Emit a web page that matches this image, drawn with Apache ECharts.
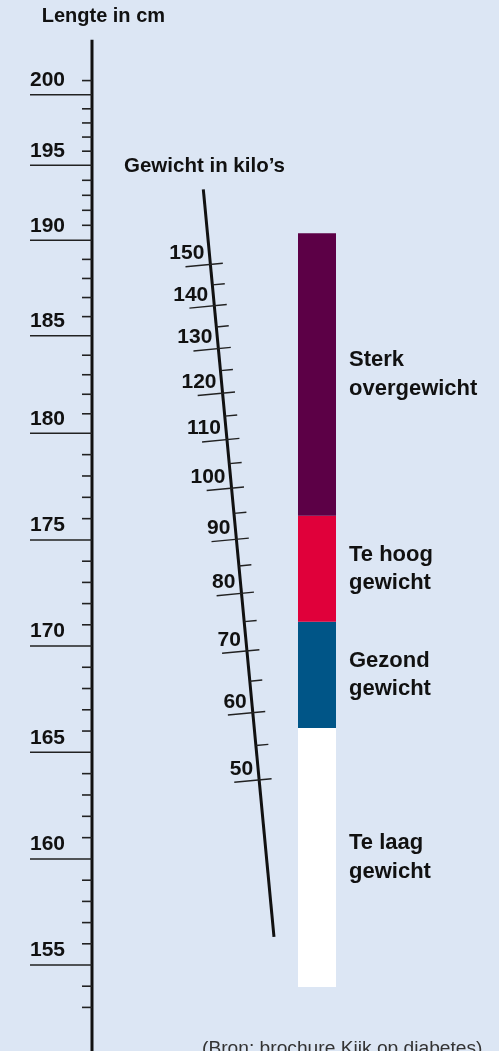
<!DOCTYPE html>
<html>
<head>
<meta charset="utf-8">
<script src="https://cdn.jsdelivr.net/npm/echarts@6/dist/echarts.min.js"></script>
<style>
html,body{margin:0;padding:0;background:#dce6f4;}
#c{width:499px;height:1051px;}
</style>
</head>
<body>
<div id="c"></div>
<script>
// ================= DATA =================
const titleHeight = 'Lengte in cm';
const titleWeight = 'Gewicht in kilo\u2019s';
const sourceText = '(Bron: brochure Kijk op diabetes)';

const heightMajorTicks = [200, 195, 190, 185, 180, 175, 170, 165, 160, 155];
const heightMinorTicks = [201, 199, 198, 197, 196, 194, 193, 192, 191, 189, 188, 187, 186,
  184, 183, 182, 181, 179, 178, 177, 176, 174, 173, 172, 171, 169, 168, 167, 166,
  164, 163, 162, 161, 159, 158, 157, 156, 154, 153];

const weightMajorTicks = [150, 140, 130, 120, 110, 100, 90, 80, 70, 60, 50];
const weightMinorTicks = [145, 135, 125, 115, 105, 95, 85, 75, 65, 55];

const bmiBandNames = ['Te laag\ngewicht', 'Gezond\ngewicht', 'Te hoog\ngewicht', 'Sterk\novergewicht'];
const bmiBandLimits = [7.8, 20, 25, 30, 43.3];   // BMI: bar start, band borders, bar end

// ================= LAYOUT / STYLE =================
const W = 499, H = 1051;
const L = {
  // height (Lengte) scale: printed, non-uniform scale -> anchor points (cm -> vertical units)
  hAnchors: [[155, 965], [160, 859], [165, 752.3], [170, 646], [175, 540], [180, 433.3],
             [185, 335.7], [190, 240.3], [195, 165.3], [200, 94.7]],
  hAxisX: 92, hAxisExtent: [150.5, 203.9], hMinorLen: 10, hMajorLeft: 30, hLabelRise: 14.5,
  // weight (Gewicht) scale: square-root scale along a slanted line
  wMidY: 501.45, wPerSqrt: 99.6, wMidSqrt: 9.867,
  wLineTop: [203.3, 189.3], wSlope: 0.09456, wExtent: [30.2, 169],
  wTickRight: 12.5, wTickLeft: 25, wLabelGap: 5, wLabelRise: 11,
  // BMI bar
  bar: { left: 298, top: 233.3, width: 38, height: 753.7 }
};
const colors = { bg: '#dce6f4', ink: '#111111', tick: '#222222',
  bands: ['#ffffff', '#005587', '#e0003a', '#5c0046'] };
const FONT = '"Liberation Sans", Arial, Helvetica, sans-serif';

function hToY(h) {
  const a = L.hAnchors;
  let i = 0;
  while (i < a.length - 2 && h > a[i + 1][0]) i++;
  const [h0, y0] = a[i], [h1, y1] = a[i + 1];
  return y0 + (h - h0) * (y1 - y0) / (h1 - h0);
}
function wToY(w) { return L.wMidY - L.wPerSqrt * (Math.sqrt(w) - L.wMidSqrt); }
function wLineX(y) { return L.wLineTop[0] + (y - L.wLineTop[1]) * L.wSlope; }
const nLen = Math.sqrt(1 + L.wSlope * L.wSlope);
const nx = 1 / nLen, ny = -L.wSlope / nLen;   // normal to the weight line (pointing right)

function txt(x, y, text, size, weight, align, vAlign, color) {
  return { type: 'text', x: x, y: y, silent: true,
    style: { text: text, fill: color || colors.ink, font: weight + ' ' + size + 'px ' + FONT,
      fontSize: size, fontWeight: weight, fontFamily: FONT,
      align: align, verticalAlign: vAlign, textAlign: align, textVerticalAlign: vAlign } };
}
function seg(p1, p2, w, c) {
  return { type: 'line', silent: true, shape: { x1: p1[0], y1: p1[1], x2: p2[0], y2: p2[1] },
    style: { stroke: c || colors.tick, lineWidth: w, lineCap: 'butt' } };
}

// ---------- height axis ----------
function renderHeightAxis(params, api) {
  const p1 = api.coord([L.hAxisX, hToY(api.value(1))]);
  const p2 = api.coord([L.hAxisX, hToY(api.value(0))]);
  return seg(p1, p2, 3, colors.ink);
}
function renderHeightMinor(params, api) {
  const y = hToY(api.value(0));
  return seg(api.coord([L.hAxisX - L.hMinorLen, y]), api.coord([L.hAxisX, y]), 1.6);
}
function renderHeightMajor(params, api) {
  const h = api.value(0);
  const y = hToY(h);
  const a = api.coord([L.hMajorLeft, y]), b = api.coord([L.hAxisX, y]);
  const t = api.coord([L.hMajorLeft, y - L.hLabelRise]);
  return { type: 'group', children: [
    seg(a, b, 1.5),
    txt(t[0], t[1], String(h), 21, 'bold', 'left', 'middle')
  ] };
}

// ---------- weight line ----------
function renderWeightLine(params, api) {
  const yTop = wToY(api.value(1)), yBot = wToY(api.value(0));
  return seg(api.coord([wLineX(yTop), yTop]), api.coord([wLineX(yBot), yBot]), 3, colors.ink);
}
function renderWeightMinor(params, api) {
  const y = wToY(api.value(0)), x = wLineX(y);
  return seg(api.coord([x, y]), api.coord([x + L.wTickRight * nx, y + L.wTickRight * ny]), 1.4);
}
function renderWeightMajor(params, api) {
  const w = api.value(0);
  const y = wToY(w), x = wLineX(y);
  const ly = y - L.wLabelRise;
  const lp = api.coord([wLineX(ly) - L.wLabelGap, ly]);
  return { type: 'group', children: [
    seg(api.coord([x - L.wTickLeft * nx, y - L.wTickLeft * ny]),
        api.coord([x + L.wTickRight * nx, y + L.wTickRight * ny]), 1.4),
    txt(lp[0], lp[1], String(w), 21, 'bold', 'right', 'middle')
  ] };
}

const hiddenAxis = { show: false };
const bandSeries = bmiBandNames.map(function (name, i) {
  return {
    type: 'bar', name: name, stack: 'bmi', xAxisIndex: 1, yAxisIndex: 1,
    barWidth: '100%', clip: true, silent: true,
    itemStyle: { color: colors.bands[i] },
    label: { show: true, position: 'right', distance: 13, formatter: '{a}',
      color: colors.ink, fontSize: 22, fontWeight: 'bold', fontFamily: FONT, lineHeight: 28.5,
      align: 'left' },
    data: [bmiBandLimits[i + 1] - (i === 0 ? 0 : bmiBandLimits[i])]
  };
});

const chart = echarts.init(document.getElementById('c'), null, { renderer: 'canvas', width: W, height: H });
chart.setOption({
  backgroundColor: colors.bg,
  animation: false,
  grid: [
    { left: 0, top: 0, width: W, height: H },
    { left: L.bar.left, top: L.bar.top, width: L.bar.width, height: L.bar.height }
  ],
  xAxis: [
    Object.assign({ type: 'value', min: 0, max: W, gridIndex: 0 }, hiddenAxis),
    Object.assign({ type: 'category', data: ['BMI'], gridIndex: 1 }, hiddenAxis)
  ],
  yAxis: [
    Object.assign({ type: 'value', min: 0, max: H, inverse: true, gridIndex: 0 }, hiddenAxis),
    Object.assign({ type: 'value', min: bmiBandLimits[0], max: bmiBandLimits[bmiBandLimits.length - 1], gridIndex: 1 }, hiddenAxis)
  ],
  graphic: [
    txt(41.7, 16, titleHeight, 20, 'bold', 'left', 'middle'),
    txt(124, 166, titleWeight, 20.5, 'bold', 'left', 'middle'),
    txt(202, 1048.5, sourceText, 19.2, 'normal', 'left', 'middle', '#333333')
  ],
  series: [
    { type: 'custom', name: 'heightAxis', renderItem: renderHeightAxis, data: [L.hAxisExtent], silent: true, clip: false },
    { type: 'custom', name: 'heightMinor', renderItem: renderHeightMinor, data: heightMinorTicks.map(v => [v]), silent: true, clip: false },
    { type: 'custom', name: 'heightMajor', renderItem: renderHeightMajor, data: heightMajorTicks.map(v => [v]), silent: true, clip: false },
    { type: 'custom', name: 'weightLine', renderItem: renderWeightLine, data: [L.wExtent], silent: true, clip: false },
    { type: 'custom', name: 'weightMinor', renderItem: renderWeightMinor, data: weightMinorTicks.map(v => [v]), silent: true, clip: false },
    { type: 'custom', name: 'weightMajor', renderItem: renderWeightMajor, data: weightMajorTicks.map(v => [v]), silent: true, clip: false }
  ].concat(bandSeries)
});
</script>
</body>
</html>
